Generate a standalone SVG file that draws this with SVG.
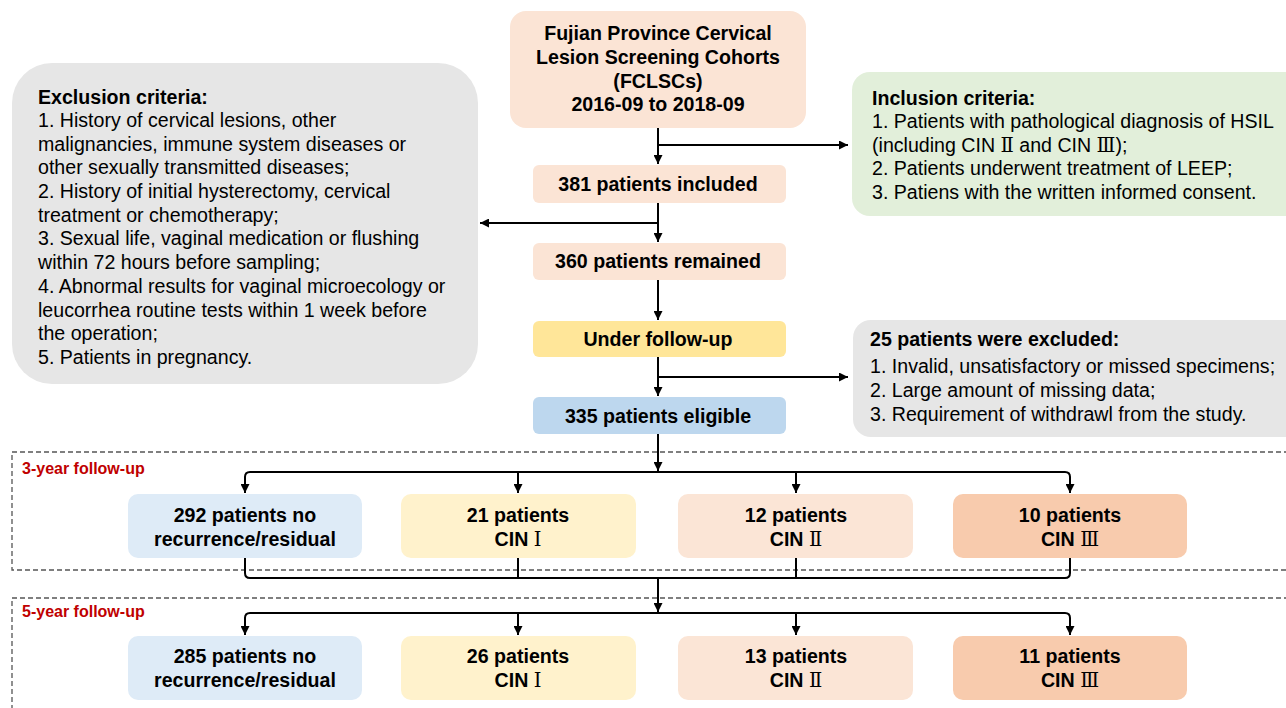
<svg xmlns="http://www.w3.org/2000/svg" width="1286" height="708" viewBox="0 0 1286 708">
<defs>
<marker id="ah" viewBox="0 0 10 10" refX="10" refY="5" markerWidth="9" markerHeight="9" markerUnits="userSpaceOnUse" orient="auto">
<path d="M0,0 L10,5 L0,10 z" fill="#000"/>
</marker>
<style>
text{font-family:"Liberation Sans",Arial,sans-serif;fill:#000}
.b{font-weight:bold;font-size:19.6px}
.c{text-anchor:middle}
.r{font-size:19.6px}
.h{font-weight:bold;font-size:19.6px}
.n{font-family:"DejaVu Serif","Noto Sans CJK SC",serif;font-weight:normal}
.red{fill:#C00000;font-weight:bold;font-size:16px}
.ln{fill:none;stroke:#000;stroke-width:2}
.dash{fill:none;stroke:#555;stroke-width:1.3;stroke-dasharray:5,3}
</style>
</defs>
<rect width="1286" height="708" fill="#fff"/>

<g id="frames">
<rect class="dash" x="12" y="452" width="1290" height="118"/>
<rect class="dash" x="12" y="598" width="1290" height="130"/>
<text class="red" x="22" y="474">3-year follow-up</text>
<text class="red" x="22" y="617">5-year follow-up</text>
</g>

<g id="connectors">
<path class="ln" d="M658,128 V164" marker-end="url(#ah)"/>
<path class="ln" d="M658,145 H848" marker-end="url(#ah)"/>
<path class="ln" d="M658,203 V242" marker-end="url(#ah)"/>
<path class="ln" d="M658,223 H480" marker-end="url(#ah)"/>
<path class="ln" d="M658,280 V320" marker-end="url(#ah)"/>
<path class="ln" d="M658,357 V396" marker-end="url(#ah)"/>
<path class="ln" d="M658,377 H848" marker-end="url(#ah)"/>
<path class="ln" d="M658,434 V471" marker-end="url(#ah)"/>
<path class="ln" d="M245,493 V477 Q245,472 250,472 H1065 Q1070,472 1070,477 V493"/>
<path class="ln" d="M245,482 V493" marker-end="url(#ah)"/>
<path class="ln" d="M518,472 V493" marker-end="url(#ah)"/>
<path class="ln" d="M796,472 V493" marker-end="url(#ah)"/>
<path class="ln" d="M1070,482 V493" marker-end="url(#ah)"/>
<path class="ln" d="M245,558 V573 Q245,578 250,578 H1065 Q1070,578 1070,573 V558"/>
<path class="ln" d="M518,558 V578"/>
<path class="ln" d="M796,558 V578"/>
<path class="ln" d="M658,578 V612" marker-end="url(#ah)"/>
<path class="ln" d="M245,635 V618 Q245,613 250,613 H1065 Q1070,613 1070,618 V635"/>
<path class="ln" d="M245,624 V635" marker-end="url(#ah)"/>
<path class="ln" d="M518,613 V635" marker-end="url(#ah)"/>
<path class="ln" d="M796,613 V635" marker-end="url(#ah)"/>
<path class="ln" d="M1070,624 V635" marker-end="url(#ah)"/>
</g>

<g id="cohort">
<rect x="510" y="11" width="296" height="117" rx="16" fill="#FBE4D5"/>
<text class="b c" x="658" y="40">Fujian Province Cervical</text>
<text class="b c" x="658" y="64">Lesion Screening Cohorts</text>
<text class="b c" x="658" y="88">(FCLSCs)</text>
<text class="b c" x="658" y="111">2016-09 to 2018-09</text>
</g>

<g id="exclusion">
<rect x="12" y="63" width="466" height="321" rx="40" fill="#E6E6E6"/>
<text class="h" x="38" y="104">Exclusion criteria:</text>
<text class="r" x="38" y="127">1. History of cervical lesions, other</text>
<text class="r" x="38" y="151">malignancies, immune system diseases or</text>
<text class="r" x="38" y="174">other sexually transmitted diseases;</text>
<text class="r" x="38" y="198">2. History of initial hysterectomy, cervical</text>
<text class="r" x="38" y="222">treatment or chemotherapy;</text>
<text class="r" x="38" y="245">3. Sexual life, vaginal medication or flushing</text>
<text class="r" x="38" y="269">within 72 hours before sampling;</text>
<text class="r" x="38" y="293">4. Abnormal results for vaginal microecology or</text>
<text class="r" x="38" y="317">leucorrhea routine tests within 1 week before</text>
<text class="r" x="38" y="340">the operation;</text>
<text class="r" x="38" y="364">5. Patients in pregnancy.</text>
</g>

<g id="inclusion">
<rect x="852" y="72" width="450" height="144" rx="18" fill="#E2EFDA"/>
<text class="h" x="872" y="105">Inclusion criteria:</text>
<text class="r" x="872" y="128">1. Patients with pathological diagnosis of HSIL</text>
<text class="r" x="872" y="152">(including CIN <tspan class="n">Ⅱ</tspan> and CIN <tspan class="n">Ⅲ</tspan>);</text>
<text class="r" x="872" y="175">2. Patients underwent treatment of LEEP;</text>
<text class="r" x="872" y="199">3. Patiens with the written informed consent.</text>
</g>

<g id="included">
<rect x="533" y="165" width="253" height="38" rx="6" fill="#FBE4D5"/>
<text class="b c" x="658" y="191">381 patients included</text>
</g>
<g id="remained">
<rect x="533" y="243" width="253" height="37" rx="6" fill="#FBE4D5"/>
<text class="b c" x="658" y="268">360 patients remained</text>
</g>
<g id="followup">
<rect x="533" y="321" width="253" height="36" rx="6" fill="#FFE699"/>
<text class="b c" x="658" y="346">Under follow-up</text>
</g>
<g id="eligible">
<rect x="533" y="397" width="253" height="37" rx="6" fill="#BDD7EE"/>
<text class="b c" x="658" y="423">335 patients eligible</text>
</g>

<g id="excluded25">
<rect x="853" y="320" width="450" height="117" rx="18" fill="#E6E6E6"/>
<text class="h" x="870" y="346">25 patients were excluded:</text>
<text class="r" x="870" y="373">1. Invalid, unsatisfactory or missed specimens;</text>
<text class="r" x="870" y="397">2. Large amount of missing data;</text>
<text class="r" x="870" y="421">3. Requirement of withdrawl from the study.</text>
</g>

<g id="y3-none">
<rect x="128" y="494" width="234" height="64" rx="10" fill="#DEEBF7"/>
<text class="b c" x="245" y="522">292 patients no</text>
<text class="b c" x="245" y="546">recurrence/residual</text>
</g>
<g id="y3-cin1">
<rect x="401" y="494" width="235" height="64" rx="10" fill="#FFF2CC"/>
<text class="b c" x="518" y="522">21 patients</text>
<text class="b c" x="518" y="546">CIN <tspan class="n">Ⅰ</tspan></text>
</g>
<g id="y3-cin2">
<rect x="678" y="494" width="235" height="64" rx="10" fill="#FBE5D6"/>
<text class="b c" x="796" y="522">12 patients</text>
<text class="b c" x="796" y="546">CIN <tspan class="n">Ⅱ</tspan></text>
</g>
<g id="y3-cin3">
<rect x="953" y="494" width="234" height="64" rx="10" fill="#F8CBAD"/>
<text class="b c" x="1070" y="522">10 patients</text>
<text class="b c" x="1070" y="546">CIN <tspan class="n">Ⅲ</tspan></text>
</g>

<g id="y5-none">
<rect x="128" y="636" width="234" height="64" rx="10" fill="#DEEBF7"/>
<text class="b c" x="245" y="663">285 patients no</text>
<text class="b c" x="245" y="687">recurrence/residual</text>
</g>
<g id="y5-cin1">
<rect x="401" y="636" width="235" height="64" rx="10" fill="#FFF2CC"/>
<text class="b c" x="518" y="663">26 patients</text>
<text class="b c" x="518" y="687">CIN <tspan class="n">Ⅰ</tspan></text>
</g>
<g id="y5-cin2">
<rect x="678" y="636" width="235" height="64" rx="10" fill="#FBE5D6"/>
<text class="b c" x="796" y="663">13 patients</text>
<text class="b c" x="796" y="687">CIN <tspan class="n">Ⅱ</tspan></text>
</g>
<g id="y5-cin3">
<rect x="953" y="636" width="234" height="64" rx="10" fill="#F8CBAD"/>
<text class="b c" x="1070" y="663">11 patients</text>
<text class="b c" x="1070" y="687">CIN <tspan class="n">Ⅲ</tspan></text>
</g>
</svg>
